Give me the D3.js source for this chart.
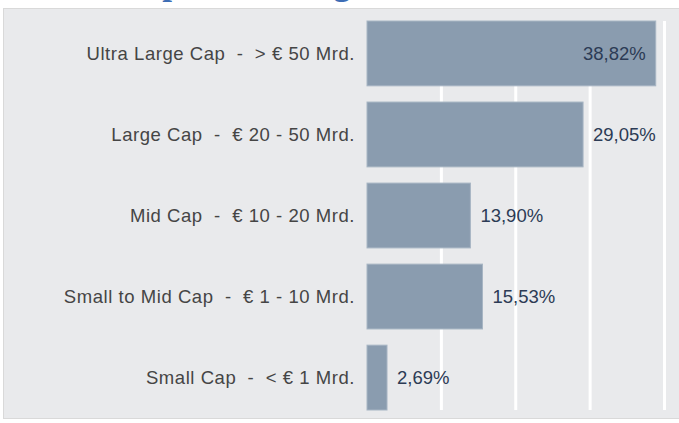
<!DOCTYPE html>
<html>
<head>
<meta charset="utf-8">
<script src="https://cdn.jsdelivr.net/npm/d3@7"></script>
<style>
  body { margin: 0; background: #fff; }
  svg text { font-family: "Liberation Sans", Arial, sans-serif; }
</style>
</head>
<body>
<div id="chart"></div>
<script>
// data
var categories = [
  "Ultra Large Cap  -  > € 50 Mrd.",
  "Large Cap  -  € 20 - 50 Mrd.",
  "Mid Cap  -  € 10 - 20 Mrd.",
  "Small to Mid Cap  -  € 1 - 10 Mrd.",
  "Small Cap  -  < € 1 Mrd."
];
var values = [38.82, 29.05, 13.90, 15.53, 2.69];
var gridTicks = [0, 10, 20, 30, 40];

var W = 679, H = 423;
var margin = {top: 21, right: 15, bottom: 13, left: 367};

var svg = d3.select("#chart").append("svg")
    .attr("width", W)
    .attr("height", H);

// title, only the bottom of it is visible
svg.append("text")
    .attr("x", 28)
    .attr("y", -6)
    .style("font-family", "'Liberation Serif', 'DejaVu Serif', serif")
    .style("font-weight", "bold")
    .style("font-size", "35px")
    .style("fill", "#3d6db5")
    .text("Marktkapitalisierung");

// gray panel
svg.append("rect")
    .attr("x", 3.5).attr("y", 8.5)
    .attr("width", W).attr("height", 410)
    .attr("fill", "#e9eaec")
    .attr("stroke", "#d9d9d9")
    .attr("stroke-width", 1);

var x = d3.scaleLinear().domain([0, 40]).range([margin.left, 664.5]);
var y = d3.scaleBand().domain(categories)
    .range([margin.top, H - margin.bottom])
    .paddingInner(0.2).paddingOuter(0);

// gridlines
svg.append("g")
    .attr("class", "grid")
    .selectAll("line")
    .data(gridTicks.slice(1))
    .enter().append("line")
    .attr("x1", function(d) { return x(d); })
    .attr("x2", function(d) { return x(d); })
    .attr("y1", margin.top)
    .attr("y2", H - margin.bottom)
    .attr("stroke", "#ffffff")
    .attr("stroke-width", 3);

// bars
svg.append("g").selectAll("rect")
    .data(values)
    .enter().append("rect")
    .attr("x", x(0))
    .attr("y", function(d, i) { return y(categories[i]); })
    .attr("width", function(d) { return x(d) - x(0); })
    .attr("height", y.bandwidth())
    .attr("fill", "#8a9caf")
    .attr("stroke", "#a7b5c3")
    .attr("stroke-width", 1);

// category labels
svg.append("g").selectAll("text")
    .data(categories)
    .enter().append("text")
    .attr("x", 355)
    .attr("y", function(d) { return y(d) + y.bandwidth() / 2; })
    .attr("dy", "0.35em")
    .attr("text-anchor", "end")
    .style("font-size", "18.5px")
    .style("letter-spacing", "0.55px")
    .style("fill", "#454545")
    .style("white-space", "pre")
    .attr("xml:space", "preserve")
    .text(function(d) { return d; });

// value labels, inside the longest bar, outside the rest
var fmt = function(v) { return v.toFixed(2).replace(".", ",") + "%"; };
svg.append("g").selectAll("text")
    .data(values)
    .enter().append("text")
    .attr("x", function(d) { return d > 35 ? x(d) - 10 : x(d) + 10; })
    .attr("y", function(d, i) { return y(categories[i]) + y.bandwidth() / 2; })
    .attr("dy", "0.35em")
    .attr("text-anchor", function(d) { return d > 35 ? "end" : "start"; })
    .style("font-size", "18.5px")
    .style("fill", "#2c3b55")
    .text(fmt);
</script>
</body>
</html>
